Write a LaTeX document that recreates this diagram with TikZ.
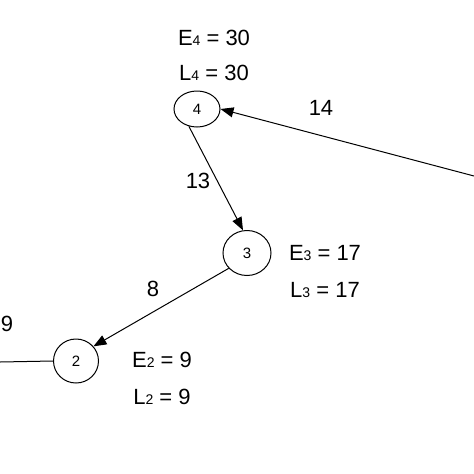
\documentclass[tikz,border=0pt]{standalone}
\usepackage{fontspec}
\setmainfont{Liberation Sans}
\usetikzlibrary{arrows.meta,shapes.geometric}
\newcommand{\sbs}[1]{{\fontsize{14}{14}\selectfont #1}}
\begin{document}
\begin{tikzpicture}[x=1pt,y=-1pt,
  evnode/.style={draw,ellipse,line width=1pt,inner sep=0pt,font=\fontsize{15}{15}\selectfont},
  lbl/.style={font=\fontsize{22}{22}\selectfont,inner sep=0pt},
  conn/.style={line width=1pt,-{Triangle[length=13pt,width=10pt]}},
  plain/.style={line width=1pt}]
\useasboundingbox (0,0) rectangle (474,474);
\fill[white] (0,0) rectangle (474,474);
\node[evnode,minimum width=46pt,minimum height=36pt] (n4) at (197,109) {4};
\node[evnode,minimum width=48pt,minimum height=45pt] (n3) at (247,253) {3};
\node[evnode,minimum width=45pt,minimum height=44pt] (n2) at (76,361) {2};
\coordinate (r) at (474,176);
\coordinate (l) at (0,362);
\draw[conn] (r) -- (n4.east);
\draw[conn] (n4.-115) -- (n3.100);
\draw[conn] (n3.-140) -- (n2.40);
\draw[plain] (l) -- (n2.west);
\node[lbl] (e4) at (214,38) {E\sbs{4} = 30};
\node[lbl] (l4) at (214,73) {L\sbs{4} = 30};
\node[lbl] (e3) at (325,253) {E\sbs{3} = 17};
\node[lbl] (l3) at (325,290) {L\sbs{3} = 17};
\node[lbl] (e2) at (162,360) {E\sbs{2} = 9};
\node[lbl] (l2) at (162,397) {L\sbs{2} = 9};
\node[lbl] (w14) at (321,108) {14};
\node[lbl] (w13) at (198,181) {13};
\node[lbl] (w8) at (153,289) {8};
\node[lbl] (w9) at (7,324) {9};
\end{tikzpicture}
\end{document}
